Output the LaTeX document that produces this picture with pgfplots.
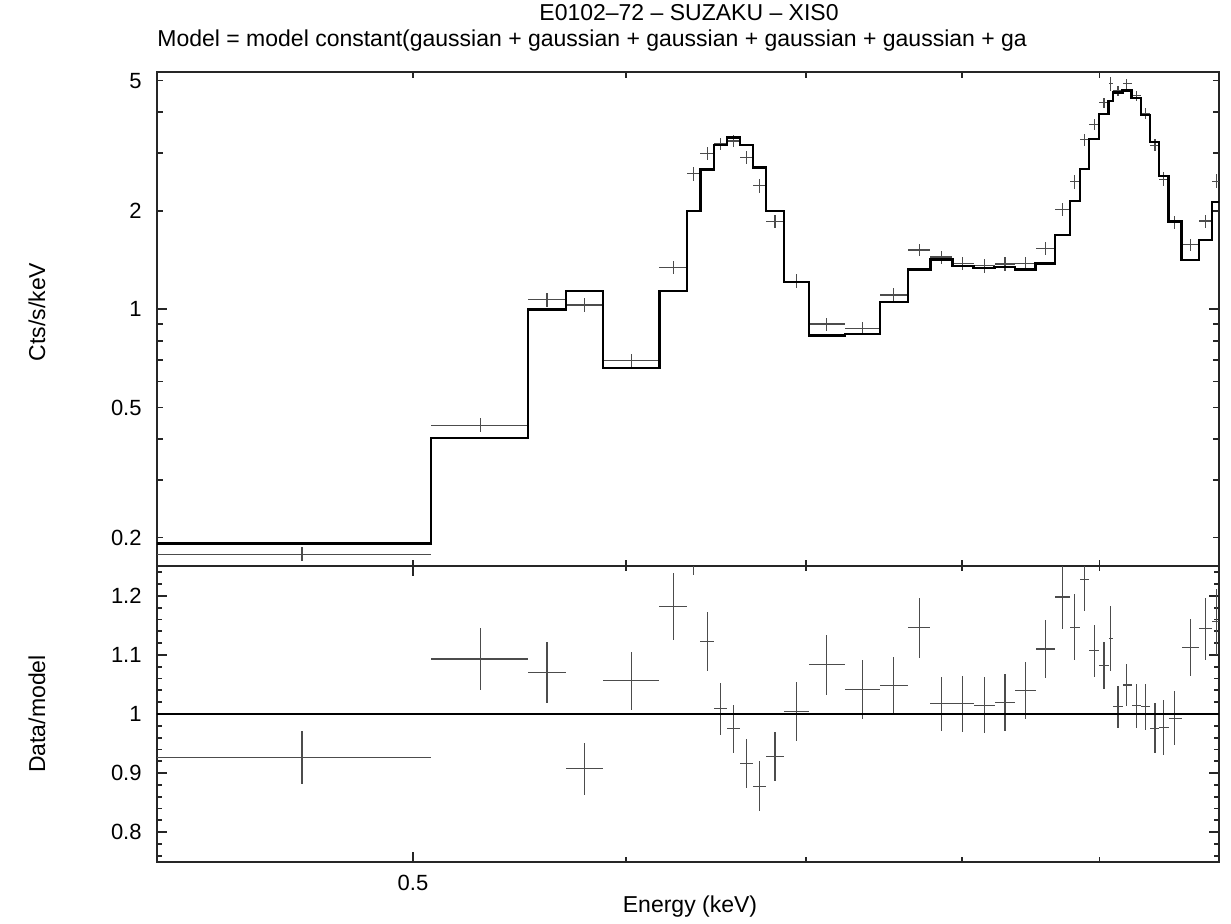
\documentclass[border=0pt]{standalone}
\usepackage{fontspec}
\setmainfont{Liberation Sans}
\usepackage{pgfplots}
\usepackage{pgfplotstable}
\pgfplotsset{compat=1.18}

% data bins: centre, bin edges, counts and error, data/model ratio and error
\pgfplotstableread{
E      lo     hi     d      de     r      re
0.4547 0.4016 0.5077 0.1781 0.0086 0.927  0.045
0.5296 0.5077 0.5516 0.4417 0.0210 1.093  0.052
0.5608 0.5516 0.5700 1.068  0.051  1.070  0.051
0.5791 0.5700 0.5883 1.029  0.050  0.907  0.044
0.6029 0.5883 0.6175 0.697  0.032  1.056  0.049
0.6248 0.6175 0.6322 1.342  0.064  1.182  0.056
0.6356 0.6322 0.6396 2.597  0.130  1.300  0.065
0.6433 0.6396 0.6470 3.000  0.134  1.122  0.050
0.6505 0.6470 0.6542 3.202  0.140  1.009  0.044
0.6580 0.6542 0.6615 3.266  0.137  0.975  0.041
0.6653 0.6615 0.6689 2.906  0.130  0.916  0.041
0.6726 0.6689 0.6763 2.382  0.117  0.878  0.043
0.6817 0.6763 0.6871 1.850  0.084  0.928  0.042
0.6944 0.6871 0.7018 1.217  0.061  1.004  0.050
0.7127 0.7018 0.7238 0.900  0.042  1.083  0.051
0.7348 0.7238 0.7458 0.873  0.042  1.041  0.050
0.7547 0.7458 0.7640 1.104  0.052  1.048  0.049
0.7715 0.7640 0.7788 1.516  0.067  1.146  0.051
0.7862 0.7788 0.7936 1.443  0.065  1.017  0.046
0.8006 0.7936 0.8080 1.379  0.064  1.017  0.047
0.8153 0.8080 0.8227 1.355  0.064  1.015  0.048
0.8300 0.8227 0.8373 1.374  0.065  1.020  0.048
0.8445 0.8373 0.8521 1.376  0.064  1.040  0.048
0.8594 0.8521 0.8665 1.532  0.068  1.110  0.049
0.8720 0.8665 0.8775 2.017  0.091  1.198  0.054
0.8812 0.8775 0.8850 2.453  0.120  1.147  0.056
0.8888 0.8850 0.8921 3.296  0.140  1.227  0.052
0.8959 0.8921 0.8997 3.665  0.146  1.107  0.044
0.9034 0.8997 0.9070 4.271  0.158  1.082  0.040
0.9086 0.9070 0.9106 4.886  0.238  1.127  0.055
0.9143 0.9106 0.9179 4.654  0.166  1.012  0.036
0.9213 0.9179 0.9250 4.894  0.168  1.049  0.036
0.9290 0.9250 0.9324 4.491  0.164  1.014  0.037
0.9362 0.9324 0.9399 3.967  0.153  1.012  0.039
0.9437 0.9399 0.9471 3.170  0.136  0.976  0.042
0.9507 0.9471 0.9548 2.497  0.120  0.977  0.047
0.9597 0.9548 0.9655 1.841  0.085  0.993  0.046
0.9729 0.9655 0.9801 1.572  0.068  1.113  0.048
0.9855 0.9801 0.9911 1.860  0.086  1.144  0.053
0.9948 0.9911 1.0000 2.461  0.119  1.156  0.056
}\spec

% folded model, value from each left bin edge
\pgfplotstableread{
e      m
0.4016 0.1921
0.5077 0.4041
0.5516 0.998
0.5700 1.135
0.5883 0.660
0.6175 1.135
0.6322 1.998
0.6396 2.674
0.6470 3.173
0.6542 3.350
0.6615 3.173
0.6689 2.713
0.6763 1.994
0.6871 1.212
0.7018 0.831
0.7238 0.839
0.7458 1.053
0.7640 1.323
0.7788 1.419
0.7936 1.356
0.8080 1.335
0.8227 1.347
0.8373 1.323
0.8521 1.380
0.8665 1.684
0.8775 2.139
0.8850 2.686
0.8921 3.311
0.8997 3.947
0.9070 4.335
0.9106 4.599
0.9179 4.665
0.9250 4.429
0.9324 3.920
0.9399 3.248
0.9471 2.556
0.9548 1.854
0.9655 1.412
0.9801 1.626
0.9911 2.129
1.0000 2.129
}\model

\begin{document}
\begin{tikzpicture}
\useasboundingbox (0pt,0pt) rectangle (615.5pt,-461.5pt);

\begin{axis}[at={(78.5pt,-283pt)}, anchor=south west,
    scale only axis, width=531pt, height=247pt,
    xmode=log, xmin=0.4016, xmax=0.9969,
    xtick={0.5}, xticklabels={},
    minor xtick={0.5,0.6,0.7,0.8,0.9},
    ymode=log, ymin=0.1637, ymax=5.31,
    ytick={0.2,0.5,1,2,5}, yticklabels={0.2,0.5,1,2,5},
    minor ytick={0.3,0.4,0.6,0.7,0.8,0.9,3,4},
    extra y ticks={1}, extra y tick labels={},
    extra y tick style={major tick length=5pt},
    major tick length=3pt, minor tick length=3pt,
    tick align=inside,
    axis line style={line width=1pt, black!85},
    tick style={line width=0.9pt, black!85},
    tick label style={font=\fontsize{11}{13}\selectfont},
    yticklabel style={anchor=east, inner sep=0pt, xshift=-7.5pt},
]
\addplot[draw=none, mark=none,
    error bars/x dir=both, error bars/x explicit,
    error bars/y dir=both, error bars/y explicit,
    error bars/error mark=none,
    error bars/error bar style={draw=black!70, line width=0.55pt}]
    table[x=E, y=d,
    x error plus expr=\thisrow{hi}-\thisrow{E},
    x error minus expr=\thisrow{E}-\thisrow{lo},
    y error expr=\thisrow{de}] {\spec};
\addplot[const plot mark left, black, line width=1.2pt] table[x=e, y=m] {\model};
\end{axis}

\begin{axis}[at={(78.5pt,-283pt)}, anchor=north west,
    scale only axis, width=531pt, height=148pt,
    xmode=log, xmin=0.4016, xmax=0.9969,
    xtick={0.5}, xticklabels={0.5},
    minor xtick={0.6,0.7,0.8,0.9},
    ymin=0.7495, ymax=1.2504,
    ytick={0.8,0.9,1,1.1,1.2}, yticklabels={0.8,0.9,1,1.1,1.2},
    minor ytick={0.76,0.78,0.82,0.84,0.86,0.88,0.92,0.94,0.96,0.98,1.02,1.04,1.06,1.08,1.12,1.14,1.16,1.18,1.22,1.24},
    major tick length=5pt, minor tick length=2.5pt,
    tick align=inside,
    axis line style={line width=1pt, black!85},
    tick style={line width=0.9pt, black!85},
    tick label style={font=\fontsize{11}{13}\selectfont},
    yticklabel style={anchor=east, inner sep=0pt, xshift=-7.5pt},
    xticklabel style={anchor=base, inner sep=0pt, yshift=-14pt},
]
\addplot[draw=none, mark=none,
    error bars/x dir=both, error bars/x explicit,
    error bars/y dir=both, error bars/y explicit,
    error bars/error mark=none,
    error bars/error bar style={draw=black!70, line width=0.55pt}]
    table[x=E, y=r,
    x error plus expr=\thisrow{hi}-\thisrow{E},
    x error minus expr=\thisrow{E}-\thisrow{lo},
    y error expr=\thisrow{re}] {\spec};
\addplot[black, line width=1.1pt] coordinates {(0.40,1) (1.0,1)};
\end{axis}

\begin{scope}[every node/.style={font=\fontsize{11.5}{13}\selectfont, inner sep=0pt}]
\node[anchor=base] at (344.5pt,-10pt) {E0102–72 – SUZAKU – XIS0};
\node[anchor=base west] at (78.5pt,-23pt) {Model = model constant(gaussian + gaussian + gaussian + gaussian + gaussian + ga};
\node[rotate=90] at (18.5pt,-156pt) {Cts/s/keV};
\node[rotate=90] at (18.5pt,-357pt) {Data/model};
\node[anchor=base] at (345pt,-456pt) {Energy (keV)};
\end{scope}
\end{tikzpicture}
\end{document}
